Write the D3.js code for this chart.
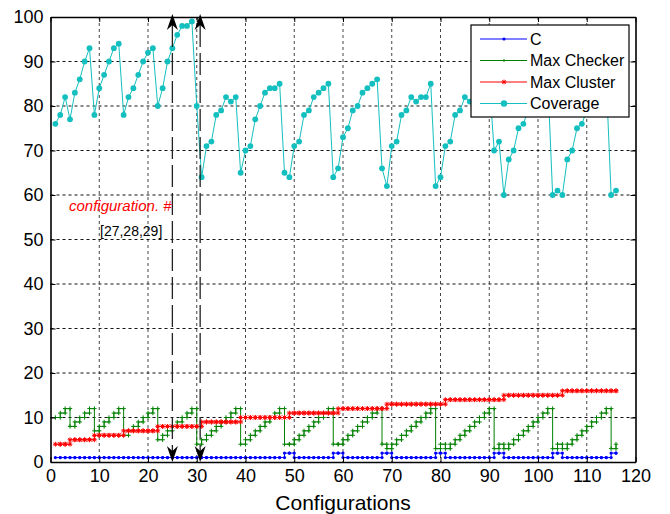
<!DOCTYPE html>
<html>
<head>
<meta charset="utf-8">
<script src="https://cdn.jsdelivr.net/npm/d3@7"></script>
<style>
  body { margin: 0; background: #fff; }
  text { font-family: "Liberation Sans", Arial, sans-serif; }
</style>
</head>
<body>
<div id="chart"></div>
<script>
// values per configuration (config number = index + 1)
var cValues = [
  1,1,1,1,1,1,1,1,1,1,  1,1,1,1,1,1,1,1,1,1,  1,1,1,1,1,1,1,1,1,1,
  1,1,1,1,1,1,1,1,1,1,  1,1,1,1,1,1,1,2,2,1,  1,1,1,1,1,1,1,2,2,1,
  1,1,1,1,1,1,1,2,2,1,  1,1,1,1,1,1,1,1,2,2,  1,1,1,1,1,1,1,1,1,1,
  2,2,1,1,1,1,1,1,1,1,  1,1,2,2,1,1,1,1,1,1,  1,1,1,1,2,2];
var maxChecker = [
  10,11,12,
  8,9,10,11,12,
  7,8,9,10,11,12,
  6,7,8,9,10,11,12,
  5,6,7,8,9,10,11,12,
  4,5,6,7,8,9,10,11,12,
  4,5,6,7,8,9,10,11,12,
  4,4,5,6,7,8,9,10,11,12,
  4,4,5,6,7,8,9,10,11,12,
  4,3,4,5,6,7,8,9,10,11,12,
  3,4,3,4,5,6,7,8,9,10,11,12,
  3,4,3,4,5,6,7,8,9,10,11,12,
  3,4,3,4,5,6,7,8,9,10,11,12,
  3,4];
var maxCluster = [
  4,4,4,
  5,5,5,5,5,
  6,6,6,6,6,6,
  7,7,7,7,7,7,7,
  8,8,8,8,8,8,8,8,8,
  9,9,9,9,9,9,9,9,
  10,10,10,10,10,10,10,10,10,10,
  11,11,11,11,11,11,11,11,11,11,
  12,12,12,12,12,12,12,12,12,12,
  13,13,13,13,13,13,13,13,13,13,13,13,
  14,14,14,14,14,14,14,14,14,14,14,14,
  15,15,15,15,15,15,15,15,15,15,15,15,
  16,16,16,16,16,16,16,16,16,16,16,16];
var coverage = [
  76,78,82,77,83,86,90,93,78,84,  87,90,93,94,78,82,84,87,90,92,
  93,80,84,90,93,96,98,98,99,80,  64,71,72,78,79,82,81,82,65,70,
  71,77,80,83,84,84,85,65,64,71,  72,78,79,82,83,84,85,64,66,73,
  75,79,80,83,84,85,86,66,62,71,  72,78,79,82,81,82,82,85,62,64,
  71,72,78,79,82,81,83,84,85,86,  70,72,60,68,70,75,76,79,82,83,
  84,86,60,61,60,68,70,75,76,79,  82,83,84,86,60,61];
var seriesNames = ["C", "Max Checker", "Max Cluster", "Coverage"];
var xTicks = [0, 10, 20, 30, 40, 50, 60, 70, 80, 90, 100, 110, 120];
var yTicks = [0, 10, 20, 30, 40, 50, 60, 70, 80, 90, 100];
var markedConfigs = [25, 30.7];

var W = 670, H = 514;
var margin = {top: 17, right: 34.5, bottom: 52, left: 50.5},
    width = W - margin.left - margin.right,
    height = H - margin.top - margin.bottom;

var svg = d3.select("#chart").append("svg")
    .attr("width", W)
    .attr("height", H)
    .style("display", "block");
var g = svg.append("g")
    .attr("transform", "translate(" + margin.left + "," + margin.top + ")");

var xs = d3.scaleLinear().domain([0, 120]).range([0, width]);
var ys = d3.scaleLinear().domain([0, 100]).range([height, 0]);

// grid
g.append("g").selectAll("line").data(xTicks.slice(1, -1)).enter().append("line")
    .attr("x1", d => xs(d)).attr("x2", d => xs(d))
    .attr("y1", 0).attr("y2", height)
    .attr("stroke", "#444").attr("stroke-dasharray", "3,3");
g.append("g").selectAll("line").data(yTicks.slice(1, -1)).enter().append("line")
    .attr("x1", 0).attr("x2", width)
    .attr("y1", d => ys(d)).attr("y2", d => ys(d))
    .attr("stroke", "#111").attr("stroke-dasharray", "3,3");

// stairs helpers
var stairLine = d3.line()
    .x(d => xs(d[0])).y(d => ys(d[1]))
    .curve(d3.curveStepAfter);
function stairVerts(vals) {
  var pts = [];
  vals.forEach(function(v, i) {
    pts.push([i + 1, v]);
    if (i < vals.length - 1) pts.push([i + 2, v]);
  });
  return pts;
}
function toPts(vals) { return vals.map((v, i) => [i + 1, v]); }

function plusPath(s) { return "M" + (-s) + ",0H" + s + "M0," + (-s) + "V" + s; }
function starPath(s) {
  var k = s * 0.72;
  return plusPath(s) + "M" + (-k) + "," + (-k) + "L" + k + "," + k + "M" + (-k) + "," + k + "L" + k + "," + (-k);
}

// C
g.append("path").datum(toPts(cValues))
    .attr("d", stairLine).attr("fill", "none").attr("stroke", "#0000ff").attr("stroke-width", 1);
g.append("g").selectAll("circle").data(stairVerts(cValues)).enter().append("circle")
    .attr("cx", d => xs(d[0])).attr("cy", d => ys(d[1])).attr("r", 1.6).attr("fill", "#0000ff");

// Max Checker
g.append("path").datum(toPts(maxChecker))
    .attr("d", stairLine).attr("fill", "none").attr("stroke", "#008000").attr("stroke-width", 1);
g.append("g").selectAll("path").data(stairVerts(maxChecker)).enter().append("path")
    .attr("transform", d => "translate(" + xs(d[0]) + "," + ys(d[1]) + ")")
    .attr("d", plusPath(2.2)).attr("stroke", "#008000").attr("stroke-width", 1).attr("fill", "none");

// Max Cluster
g.append("path").datum(toPts(maxCluster))
    .attr("d", stairLine).attr("fill", "none").attr("stroke", "#ff0000").attr("stroke-width", 1);
g.append("g").selectAll("path").data(stairVerts(maxCluster)).enter().append("path")
    .attr("transform", d => "translate(" + xs(d[0]) + "," + ys(d[1]) + ")")
    .attr("d", starPath(2.4)).attr("stroke", "#ff0000").attr("stroke-width", 1).attr("fill", "none");

// Coverage
var line = d3.line().x(d => xs(d[0])).y(d => ys(d[1]));
g.append("path").datum(toPts(coverage))
    .attr("d", line).attr("fill", "none").attr("stroke", "#14bfbf").attr("stroke-width", 1);
g.append("g").selectAll("circle").data(toPts(coverage)).enter().append("circle")
    .attr("cx", d => xs(d[0])).attr("cy", d => ys(d[1])).attr("r", 2.9).attr("fill", "#14bfbf");

// annotation arrows
var arrows = g.append("g");
markedConfigs.forEach(function(c) {
  var ax = xs(c);
  arrows.append("line")
      .attr("x1", ax).attr("x2", ax).attr("y1", ys(100) + 8).attr("y2", ys(0) - 8)
      .attr("stroke", "#222").attr("stroke-width", 1.3).attr("stroke-dasharray", "22,6");
  arrows.append("path")
      .attr("transform", "translate(" + ax + "," + (ys(100) - 3) + ")")
      .attr("d", "M0,0L-5.5,16L0,11L5.5,16Z").attr("fill", "#000");
  arrows.append("path")
      .attr("transform", "translate(" + ax + "," + ys(0) + ")")
      .attr("d", "M0,0L-5.5,-16L0,-11L5.5,-16Z").attr("fill", "#000");
});

g.append("text").attr("x", 18.5).attr("y", 194)
    .attr("fill", "#ff0000").attr("font-style", "italic").attr("font-size", "15px")
    .text("configuration. #");
g.append("text").attr("x", 49.5).attr("y", 219)
    .attr("fill", "#000").attr("font-size", "14px")
    .text("[27,28,29]");

// axes
var fontTick = "18px";
g.append("g").attr("transform", "translate(0," + height + ")")
    .call(d3.axisBottom(xs).tickValues(xTicks).tickSize(-5).tickSizeOuter(0).tickPadding(7))
    .call(a => a.selectAll("text").attr("font-size", fontTick).attr("fill", "#000").style("font-family", "'Liberation Sans', Arial, sans-serif"));
g.append("g")
    .call(d3.axisLeft(ys).tickValues(yTicks).tickSize(-5).tickSizeOuter(0).tickPadding(7))
    .call(a => a.selectAll("text").attr("font-size", fontTick).attr("fill", "#000").style("font-family", "'Liberation Sans', Arial, sans-serif"));
g.append("g")
    .call(d3.axisTop(xs).tickValues(xTicks).tickSize(-5).tickSizeOuter(0).tickFormat(""));
g.append("g").attr("transform", "translate(" + width + ",0)")
    .call(d3.axisRight(ys).tickValues(yTicks).tickSize(-5).tickSizeOuter(0).tickFormat(""));
g.selectAll(".domain").attr("stroke", "#000").attr("stroke-width", 1.6);
g.selectAll(".tick line").attr("stroke", "#000");

g.append("text").attr("x", width / 2).attr("y", height + 48)
    .attr("text-anchor", "middle").attr("font-size", "21px").attr("fill", "#000")
    .text("Configurations");

// legend
var lg = svg.append("g").attr("transform", "translate(471,25)");
lg.append("rect").attr("width", 158).attr("height", 92)
    .attr("fill", "#fff").attr("stroke", "#000").attr("stroke-width", 1.2);
var legendColors = ["#0000ff", "#008000", "#ff0000", "#14bfbf"];
seriesNames.forEach(function(name, i) {
  var ly = 14 + i * 21.5;
  lg.append("line").attr("x1", 9).attr("x2", 56).attr("y1", ly).attr("y2", ly)
      .attr("stroke", legendColors[i]).attr("stroke-width", 1);
  if (i === 0) lg.append("circle").attr("cx", 33).attr("cy", ly).attr("r", 1.6).attr("fill", legendColors[i]);
  if (i === 1) lg.append("path").attr("transform", "translate(33," + ly + ")").attr("d", plusPath(1.5))
      .attr("stroke", legendColors[i]).attr("fill", "none");
  if (i === 2) lg.append("path").attr("transform", "translate(33," + ly + ")").attr("d", starPath(2.4))
      .attr("stroke", legendColors[i]).attr("stroke-width", 1).attr("fill", "none");
  if (i === 3) lg.append("circle").attr("cx", 33).attr("cy", ly).attr("r", 3.2).attr("fill", legendColors[i]);
  lg.append("text").attr("x", 59).attr("y", ly).attr("dy", "0.35em")
      .attr("font-size", "16px").attr("fill", "#000").text(name);
});
</script>
</body>
</html>
